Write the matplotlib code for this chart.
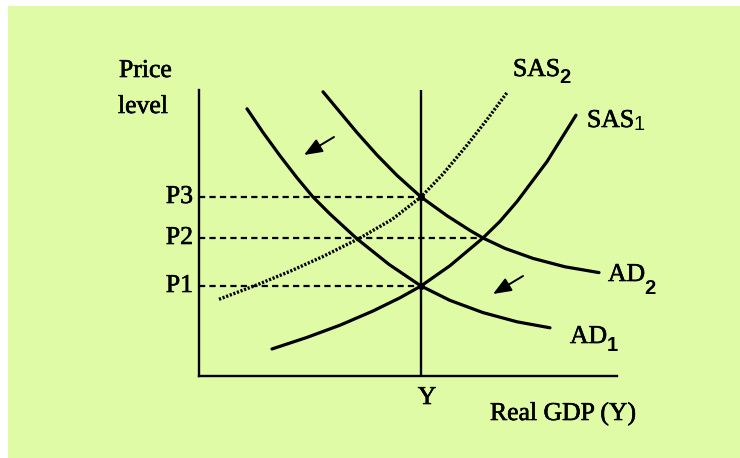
import matplotlib
matplotlib.use("Agg")
import matplotlib.pyplot as plt
from matplotlib.patches import Rectangle
import matplotlib.patheffects as pe

# ---- data (arbitrary units: real GDP on x, price level on y) ----
ad1_x = [12, 16, 20.25, 24.5, 28.5, 32.75, 39.5, 47.5, 55.5, 62.75, 71, 79.5, 87.75]
ad1_y = [66.8, 60.9, 55.05, 49.55, 44.75, 40.5, 34.3, 27.9, 22.5, 18.9, 15.85, 13.55, 12.05]

ad2_x = [31, 35.25, 39.5, 44.5, 49.5, 55.5, 62, 67.75, 71, 76.5, 83.5, 91.5, 100]
ad2_y = [71.05, 65.95, 60.85, 55.25, 50.15, 44.75, 40.07, 36.39, 34.5, 31.9, 29.4, 27.3, 25.85]

sas1_x = [18.25, 27, 35.25, 43.5, 50.25, 55.5, 62.75, 71, 75.25, 79.5, 87, 94.25]
sas1_y = [6.76, 9.65, 12.7, 16.25, 19.56, 22.5, 27.58, 34.51, 38.67, 43.6, 53.6, 65.2]

sas2_x = [5, 14.5, 22.75, 31, 40.25, 48.25, 55.5, 61, 67, 72, 77]
sas2_y = [19.18, 22.79, 26.17, 29.88, 34.5, 39.14, 44.75, 50.5, 57.7, 64.1, 70.85]

y_level = 55.5
p_labels = ["P1", "P2", "P3"]
p_values = [22.5, 34.5, 44.75]
p_ends = [55.5, 71, 55.5]

shift_tails = [(33.75, 59.75), (81, 25)]
shift_heads = [(26.25, 55.25), (73.5, 20.5)]

X_MAX, Y_MAX = 104.5, 71.5

W, H = 740, 458
fig = plt.figure(figsize=(W / 100, H / 100), dpi=100, facecolor="white")
bg = Rectangle((8 / W, 0), 1 - 8 / W, (H - 6) / H,
               transform=fig.transFigure, facecolor="#e0fba6",
               edgecolor="none", zorder=-10)
fig.patches.append(bg)

ax = fig.add_axes([199 / W, (H - 376) / H, (617 - 199) / W, (376 - 90) / H])
ax.set_facecolor("none")
ax.set_zorder(1)
ax.set_xlim(0, X_MAX)
ax.set_ylim(0, Y_MAX)
for s in ["top", "right"]:
    ax.spines[s].set_visible(False)
for s in ["left", "bottom"]:
    ax.spines[s].set_linewidth(1.7)
    ax.spines[s].set_color("black")
ax.set_xticks([])
ax.set_yticks([])

serif = "Liberation Serif"
sans = "Liberation Sans"
FS = 18.5
SFS = 14.5
heavy = [pe.withStroke(linewidth=0.45, foreground="black")]

# vertical line at Y
ax.plot([y_level, y_level], [0, Y_MAX], color="black", lw=1.7, solid_capstyle="butt")

# dashed price lines
for pv, pend in zip(p_values, p_ends):
    ax.plot([0, pend], [pv, pv], color="black", lw=1.6, dashes=(2.8, 1.9), dash_capstyle="butt")

# curves
for cx, cy in [(ad1_x, ad1_y), (ad2_x, ad2_y), (sas1_x, sas1_y)]:
    ax.plot(cx, cy, color="black", lw=2.3, solid_capstyle="round", solid_joinstyle="round")
ax.plot(sas2_x, sas2_y, color="black", lw=2.4, dashes=(0.65, 0.5), dash_capstyle="butt")

# intersection dots
ax.plot([y_level, y_level], [p_values[0], p_values[2]], "o", color="black", ms=4)

# arrows
for t, h in zip(shift_tails, shift_heads):
    ax.annotate("", xy=h, xytext=t,
                arrowprops=dict(arrowstyle="-|>,head_length=0.55,head_width=0.22",
                                lw=1.4, color="black", mutation_scale=20,
                                shrinkA=0, shrinkB=0))

# labels
def txt(x, y, s, **kw):
    return ax.text(x, y, s, fontsize=FS, family=serif, va="baseline", clip_on=False,
                   path_effects=heavy, **kw)

txt(-20.0, 74.75, "Price", ha="left")
txt(-20.25, 65.75, "level", ha="left")
for lab, pv in zip(p_labels, p_values):
    ax.text(-1.5, pv, lab, fontsize=FS, family=serif, ha="right", va="center",
            clip_on=False, path_effects=heavy)
txt(57, -7, "Y", ha="center")
txt(72.75, -11, "Real GDP (Y)", ha="left")

def curve_label(x, y, main, sub, sub_y, bold=True):
    t = txt(x, y, main, ha="left")
    ax.annotate(sub, xy=(1, sub_y), xycoords=(t, "data"), xytext=(-0.5, 0),
                textcoords="offset points", fontsize=SFS, family=sans,
                weight="bold" if bold else "normal", ha="left", va="baseline",
                annotation_clip=False)

curve_label(102.25, 23.75, "AD", "2", 20.5)
curve_label(92.75, 8.25, "AD", "1", 6.25)
curve_label(78.5, 75, "SAS", "2", 73.25)
curve_label(97, 62.25, "SAS", "1", 61.5, bold=False)

fig.savefig("out.png", dpi=100, facecolor="white")
